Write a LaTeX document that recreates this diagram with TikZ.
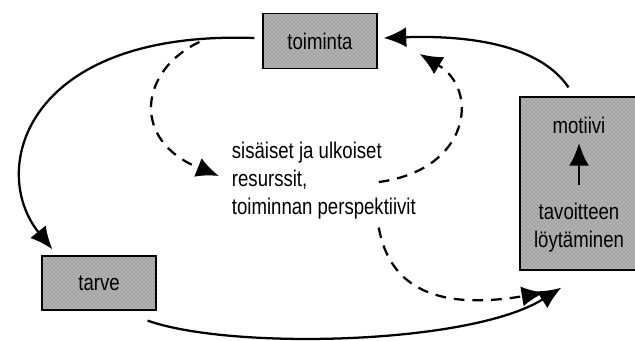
\documentclass[tikz,border=0pt]{standalone}
\usepackage{fontspec}
\setmainfont{Liberation Sans}[FakeStretch=0.82]
\usetikzlibrary{arrows.meta, patterns}

\begin{document}
\begin{tikzpicture}[x=0.75pt,y=-0.75pt]
	\tikzstyle{box} = [rectangle,draw=black,line width=0.9pt,preaction={fill=black!30},pattern=crosshatch dots,pattern color=black!55,inner sep=0pt]
	\tikzstyle{txt} = [font=\fontsize{17}{21}\selectfont]
	\tikzstyle{edge} = [line width=1.7pt,-{Latex[length=17pt,width=15pt]}]
	\tikzstyle{dashedge} = [edge,dash pattern=on 8pt off 6pt]
	\useasboundingbox (0,0) rectangle (635,340);
	\node[box,txt,minimum width=85.5pt,minimum height=41pt] (toiminta) at (320,41) {toiminta};
	\node[box,txt,minimum width=85.5pt,minimum height=40.5pt] (tarve) at (99,283) {tarve};
	\node[box,minimum width=87.75pt,minimum height=129.75pt] (motbox) at (578.5,183.5) {};
	\node[txt] (motiivi) at (579,125) {motiivi};
	\node[txt,align=center] (tavoite) at (579,228) {tavoitteen\\löytäminen};
	\node[txt,align=left,anchor=west,inner sep=2pt] (res) at (229,181) {sisäiset ja ulkoiset\\resurssit,\\toiminnan perspektiivit};
	
	\draw[edge] ([shift={(0,-14)}]tavoite.north) -- ([shift={(0,5)}]motiivi.south);
	\draw[edge] ([shift={(-8,-3)}]toiminta.west) .. controls (25,30) and (-12,170) .. ([shift={(11,-6)}]tarve.north west);
	\draw[edge] ([shift={(-9,10)}]tarve.south east) .. controls (230,350) and (470,345) .. ([shift={(42,17)}]motbox.south west);
	\draw[edge] ([shift={(-10,-9)}]motbox.north) .. controls (540,45) and (470,35) .. ([shift={(6,-3)}]toiminta.east);
	\draw[dashedge] ([shift={(-63,1)}]toiminta.west) .. controls (140,70) and (130,140) .. ([shift={(-10,-5)}]res.west);
	\draw[dashedge] ([shift={(-40,1)}]res.east) .. controls (470,170) and (480,90) .. ([shift={(42,-15)}]toiminta.south east);
	\draw[dashedge] ([shift={(-40,5)}]res.south east) .. controls (390,290) and (440,310) .. ([shift={(25,22)}]motbox.south west);
	
\end{tikzpicture}
\end{document}
